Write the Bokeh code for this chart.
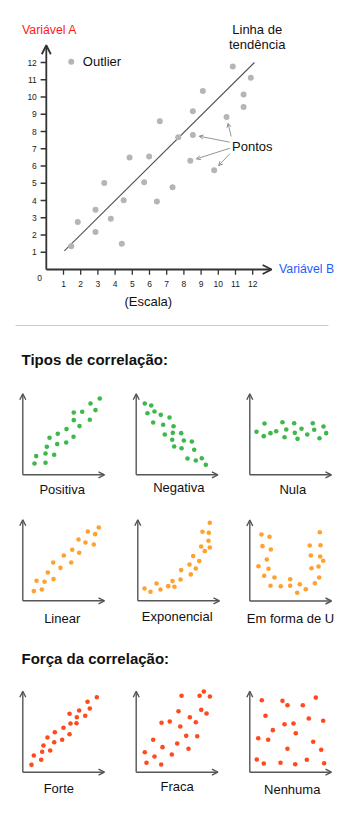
import math
from bokeh.plotting import figure
from bokeh.models import Range1d, Arrow, OpenHead
from bokeh.core.properties import value
from bokeh.embed import file_html
from bokeh.resources import INLINE

W, H = 350, 818
FONT = "Liberation Sans"

# ---------------- data ----------------
axis_ticks = [1, 2, 3, 4, 5, 6, 7, 8, 9, 10, 11, 12]
tick_labels = [str(t) for t in axis_ticks]

main_x = [1.45, 1.45, 1.83, 2.86, 2.86, 3.37, 3.75, 4.39, 4.50, 4.84, 5.69, 5.98, 6.43,
          6.60, 7.34, 7.67, 8.37, 8.52, 8.52, 9.10, 9.76, 10.48, 10.84, 11.47, 11.47, 11.89]
main_y = [12.05, 1.35, 2.76, 2.18, 3.47, 5.02, 2.94, 1.49, 4.01, 6.50, 5.06, 6.55, 3.94,
          8.60, 4.77, 7.66, 6.30, 7.80, 9.17, 10.35, 5.75, 8.84, 11.77, 10.15, 9.42, 11.12]
trend_x = [1.05, 12.1]
trend_y = [1.08, 12.0]
pontos_targets = [21, 17, 16, 20]   # indices of the points the "Pontos" arrows point to

positiva_x = [1.43, 1.64, 2.78, 2.78, 3.84, 2.94, 3.27, 4.21, 4.28, 5.31, 5.35, 6.21, 6.24, 6.94, 6.24, 7.27, 8.20, 8.90, 8.29, 9.42]
positiva_y = [1.40, 2.31, 1.48, 2.63, 2.47, 3.46, 4.57, 3.79, 5.06, 3.99, 5.64, 4.69, 6.75, 6.01, 7.69, 7.78, 6.79, 7.99, 8.80, 9.42]

negativa_x = [1.05, 1.84, 1.38, 2.24, 3.01, 4.08, 2.08, 3.30, 4.57, 3.50, 4.48, 5.51, 4.41, 5.83, 6.81, 4.65, 5.55, 7.10, 6.28, 7.30, 8.03, 8.52]
negativa_y = [8.80, 8.55, 7.60, 7.81, 7.40, 7.07, 6.46, 6.17, 6.00, 4.98, 5.18, 5.14, 4.32, 4.23, 4.11, 3.49, 3.28, 3.09, 2.01, 1.77, 2.05, 1.23]

nula_x = [0.82, 1.80, 1.71, 2.53, 3.23, 4.00, 4.25, 4.46, 5.43, 5.51, 5.84, 6.33, 7.03, 7.71, 7.88, 8.53, 9.02, 9.35]
nula_y = [5.31, 6.33, 4.77, 5.14, 5.38, 6.49, 4.64, 5.59, 6.37, 5.18, 4.44, 5.68, 4.98, 6.37, 5.56, 4.52, 5.96, 5.14]

linear_x = [1.35, 1.68, 2.33, 2.66, 3.06, 3.76, 3.72, 4.61, 5.02, 5.92, 6.05, 6.90, 6.82, 7.67, 7.96, 8.69, 8.86, 9.30]
linear_y = [1.20, 2.47, 1.40, 2.35, 3.49, 2.68, 4.73, 4.07, 5.59, 4.73, 6.30, 5.93, 7.56, 7.20, 8.56, 6.95, 8.23, 9.05]

expo_x = [0.82, 1.55, 2.29, 2.78, 3.72, 4.25, 4.49, 5.23, 5.31, 6.33, 6.49, 6.78, 7.10, 7.52, 7.76, 8.20, 8.65, 8.81, 7.92, 8.69, 8.81]
expo_y = [1.52, 1.11, 2.14, 1.40, 1.81, 2.43, 1.73, 2.63, 3.79, 4.49, 3.26, 5.52, 3.99, 4.90, 6.70, 6.13, 7.41, 6.58, 8.52, 8.40, 9.63]

u_x = [1.43, 2.41, 1.55, 2.57, 2.08, 1.06, 2.29, 1.76, 3.02, 2.53, 3.79, 4.94, 4.94, 5.80, 6.12, 6.85, 7.96,
       8.49, 7.55, 8.41, 8.98, 7.47, 8.61, 7.34, 8.65, 8.57]
u_y = [8.21, 7.93, 6.77, 6.36, 5.12, 4.30, 3.98, 3.11, 2.90, 1.88, 1.83, 2.69, 1.88, 1.01, 2.07, 1.46, 2.20,
       2.90, 4.05, 4.26, 4.96, 5.62, 5.49, 6.85, 6.89, 8.49]

forte_x = [1.06, 1.35, 2.25, 2.37, 2.53, 3.35, 3.02, 3.84, 3.92, 4.82, 4.98, 5.72, 5.84, 6.57, 6.61, 5.72, 6.90, 7.64, 8.20, 7.92, 9.06]
forte_y = [0.91, 2.06, 1.53, 2.52, 3.30, 2.68, 4.28, 3.70, 4.94, 4.00, 5.48, 4.69, 6.01, 6.05, 6.79, 7.21, 7.62, 6.96, 7.86, 8.69, 9.26]

fraca_x = [1.05, 1.26, 2.24, 2.08, 3.06, 3.22, 3.10, 4.11, 4.36, 5.02, 5.39, 5.18, 5.55, 6.12, 6.40, 6.57, 7.30, 7.47, 7.76, 7.96, 8.28, 8.61, 9.02]
fraca_y = [2.47, 1.16, 1.94, 4.00, 0.95, 3.09, 6.10, 6.26, 2.19, 3.54, 5.64, 7.53, 9.43, 4.49, 2.89, 6.79, 6.17, 4.44, 9.43, 7.70, 9.96, 7.25, 9.35]

nenhuma_x = [0.86, 1.71, 1.03, 1.47, 1.92, 2.25, 2.82, 3.76, 4.00, 4.25, 4.61, 4.61, 5.35, 5.56, 5.63, 6.49, 6.98, 7.22, 7.76, 8.08, 8.74, 8.98, 9.10]
nenhuma_y = [1.57, 1.07, 4.20, 8.89, 6.96, 4.00, 5.19, 1.16, 8.81, 5.93, 8.27, 2.89, 6.01, 0.99, 4.81, 8.27, 1.53, 6.63, 3.75, 9.21, 2.77, 6.35, 1.11]

GREEN, ORANGE, RED, GRAY = "#3cb94a", "#ffa12e", "#ff4a1f", "#b5b5b5"

panels = [
    # name, label, xs, ys, color, origin px (x, y), label px (x, y)
    ("positiva", "Positiva", positiva_x, positiva_y, GREEN, (22.3, 474.3), (61.7, 488.5)),
    ("negativa", "Negativa", negativa_x, negativa_y, GREEN, (135.7, 474.3), (178.3, 487.0)),
    ("nula", "Nula", nula_x, nula_y, GREEN, (249.3, 474.3), (292.3, 488.5)),
    ("linear", "Linear", linear_x, linear_y, ORANGE, (22.3, 600.3), (61.7, 617.5)),
    ("expo", "Exponencial", expo_x, expo_y, ORANGE, (137.3, 600.3), (176.7, 616.0)),
    ("formau", "Em forma de U", u_x, u_y, ORANGE, (249.3, 600.5), (290.0, 617.5)),
    ("forte", "Forte", forte_x, forte_y, RED, (22.3, 771.7), (58.3, 788.0)),
    ("fraca", "Fraca", fraca_x, fraca_y, RED, (135.7, 771.7), (176.7, 786.0)),
    ("nenhuma", "Nenhuma", nenhuma_x, nenhuma_y, RED, (249.3, 771.7), (291.7, 788.5)),
]

# ---------------- figure ----------------
p = figure(width=W, height=H, x_range=Range1d(0, W), y_range=Range1d(H, 0),
           output_backend="svg", toolbar_location=None, min_border=0,
           x_axis_type=None, y_axis_type=None)
p.outline_line_color = None
p.background_fill_color = "white"
p.border_fill_color = "white"


def add_ranges(name, ox, oy, sx, sy):
    p.extra_x_ranges[name] = Range1d(-ox / sx, (W - ox) / sx)
    p.extra_y_ranges[name] = Range1d((oy - H) / sy, oy / sy)


def txt(x, y, s, size="13px", color="#111", align="left", baseline="middle", style="normal", **kw):
    p.text(x=[x], y=[y], text=[s], text_font=value(FONT), text_font_size=value(size),
           text_color=color, text_align=align, text_baseline=baseline,
           text_font_style=style, **kw)


# ---- main chart ----
MOX, MOY, MSX, MSY = 45.8, 269.0, 17.2, 17.25
add_ranges("main", MOX, MOY, MSX, MSY)
M = dict(x_range_name="main", y_range_name="main")
AX = "#333333"

p.add_layout(Arrow(end=OpenHead(size=9, line_color=AX, line_width=1.8), x_start=0, y_start=0,
                   x_end=0, y_end=13.0, line_color=AX, line_width=1.8, **M))
p.add_layout(Arrow(end=OpenHead(size=9, line_color=AX, line_width=1.8), x_start=0, y_start=0,
                   x_end=13.1, y_end=0, line_color=AX, line_width=1.8, **M))
p.segment(x0=[-0.33] * len(axis_ticks), x1=[0] * len(axis_ticks), y0=axis_ticks, y1=axis_ticks,
          line_color=AX, line_width=1.3, **M)
p.segment(x0=axis_ticks, x1=axis_ticks, y0=[0] * len(axis_ticks), y1=[-0.3] * len(axis_ticks),
          line_color=AX, line_width=1.3, **M)
p.text(x=[-0.55] * len(axis_ticks), y=axis_ticks, text=tick_labels, text_font=value(FONT),
       text_font_size=value("8.5px"), text_color="#222", text_align="right",
       text_baseline="middle", **M)
p.text(x=axis_ticks, y=[-0.84] * len(axis_ticks), text=tick_labels, text_font=value(FONT),
       text_font_size=value("8.5px"), text_color="#222", text_align="center",
       text_baseline="middle", **M)

p.line(x=trend_x, y=trend_y, line_color="#555555", line_width=1.1, **M)
p.scatter(x=main_x, y=main_y, size=6, fill_color=GRAY, line_color=None, **M)

# "Pontos" arrows (start near label, stop short of the target point)
starts = [(10.75, 7.71), (10.67, 7.38), (10.67, 7.03), (10.67, 6.71)]
for (sx0, sy0), idx in zip(starts, pontos_targets):
    tx, ty = main_x[idx], main_y[idx]
    dxp, dyp = (tx - sx0) * MSX, (ty - sy0) * MSY
    d = math.hypot(dxp, dyp)
    ex = tx - dxp / d * 6.5 / MSX
    ey = ty - dyp / d * 6.5 / MSY
    p.add_layout(Arrow(end=OpenHead(size=4, line_color="#8a8a8a", line_width=1),
                       x_start=sx0, y_start=sy0, x_end=ex, y_end=ey,
                       line_color="#8a8a8a", line_width=0.9, **M))

txt(21.5, 29.5, "Variável A", size="12.3px", color="#ff1a1a")
txt(278.5, 268.5, "Variável B", size="12.3px", color="#1f5cff")
txt(82.3, 60.5, "Outlier", size="13px")
txt(256.7, 28.5, "Linha de", size="13px", align="center")
txt(256.7, 43.5, "tendência", size="13px", align="center")
txt(231.5, 145.5, "Pontos", size="13px")
txt(147.8, 300.5, "(Escala)", size="13px", align="center")
txt(39.0, 277.0, "0", size="8.5px", color="#222", align="center")

# separator
p.line(x=[15, 328], y=[325, 325], line_color="#cccccc", line_width=1)

# headings
txt(21.0, 358.5, "Tipos de correlação:", size="15px", style="bold")
txt(21.0, 657.5, "Força da correlação:", size="15px", style="bold")

# ---- small panels ----
PSX, PSY = 8.17, 8.1
PAX = "#555555"
for name, label, xs, ys, color, (ox, oy), (lx, ly) in panels:
    add_ranges(name, ox, oy, PSX, PSY)
    R = dict(x_range_name=name, y_range_name=name)
    p.add_layout(Arrow(end=OpenHead(size=6, line_color=PAX, line_width=1.4), x_start=0, y_start=0,
                       x_end=0, y_end=10.0, line_color=PAX, line_width=1.4, **R))
    p.add_layout(Arrow(end=OpenHead(size=6, line_color=PAX, line_width=1.4), x_start=0, y_start=0,
                       x_end=10.0, y_end=0, line_color=PAX, line_width=1.4, **R))
    p.scatter(x=xs, y=ys, size=4.6, fill_color=color, line_color=None, **R)
    txt(lx, ly, label, size="13px", align="center")

open("out.html", "w").write(file_html(p, INLINE))
